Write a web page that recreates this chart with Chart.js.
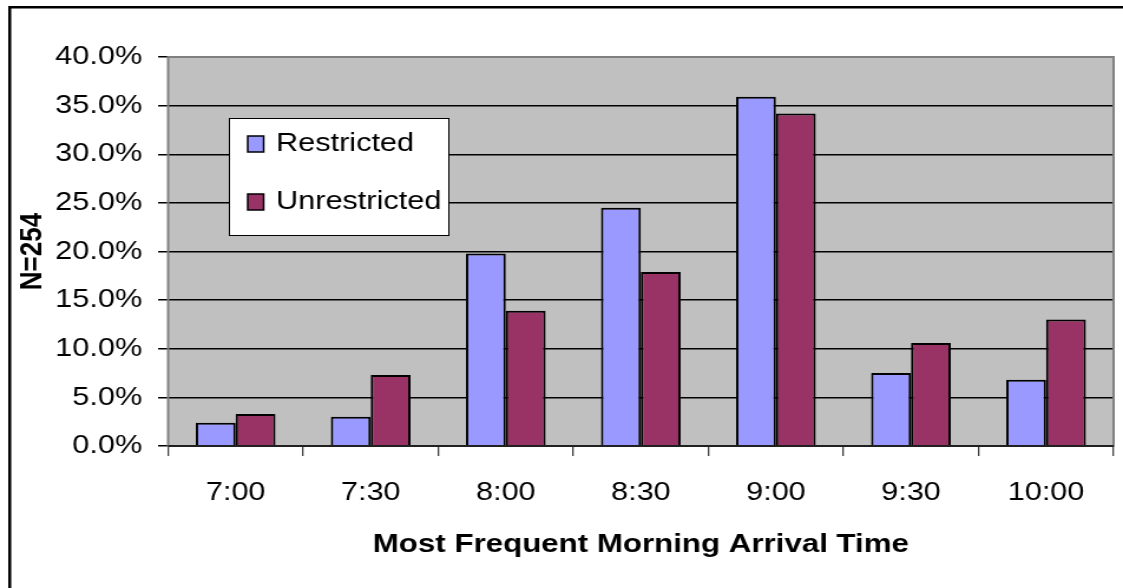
<!DOCTYPE html>
<html>
<head>
<meta charset="utf-8">
<script src="https://cdn.jsdelivr.net/npm/chart.js@4"></script>
<style>
  html, body { margin: 0; padding: 0; background: #fff; overflow: hidden; }
  /* the original picture is stretched sideways, so the canvas is drawn narrow and widened */
  #arrivalChart { width: 1123px !important; height: 588px !important; display: block; }
</style>
</head>
<body>
<canvas id="arrivalChart" width="952" height="588"></canvas>
<script>
const times = ['7:00', '7:30', '8:00', '8:30', '9:00', '9:30', '10:00'];
const restricted = [2.4, 3.0, 19.8, 24.5, 35.9, 7.5, 6.8];
const unrestricted = [3.3, 7.3, 13.9, 17.9, 34.2, 10.6, 13.0];
const yTicks = [0, 5, 10, 15, 20, 25, 30, 35, 40];

const FONT = '"Liberation Sans", Arial, sans-serif';

// grey plot background + frame round the whole chart
const plotBg = {
    id: 'plotBg',
    beforeDraw(chart) {
        const { ctx, chartArea: a } = chart;
        ctx.save();
        ctx.fillStyle = '#C0C0C0';
        ctx.fillRect(a.left, a.top, a.right - a.left, a.bottom - a.top);
        ctx.fillStyle = '#000';
        ctx.fillRect(7, 6, 2.5, chart.height - 6);
        ctx.fillRect(7, 6, chart.width - 7, 2.5);
        ctx.restore();
    },
    afterDatasetsDraw(chart) {
        const { ctx, chartArea: a } = chart;
        ctx.save();
        ctx.strokeStyle = '#808080';
        ctx.lineWidth = 2;
        ctx.strokeRect(a.left, a.top, a.right - a.left, a.bottom - a.top);
        ctx.strokeStyle = '#000';
        ctx.lineWidth = 1.5;
        ctx.beginPath();
        ctx.moveTo(a.left, a.bottom);
        ctx.lineTo(a.right, a.bottom);
        ctx.stroke();
        ctx.restore();
    }
};

// legend box drawn inside the plot, like the original
const boxLegend = {
    id: 'boxLegend',
    afterDraw(chart) {
        const { ctx } = chart;
        const x = 194, y = 118, w = 186, h = 117;
        ctx.save();
        ctx.fillStyle = '#fff';
        ctx.fillRect(x, y, w, h);
        ctx.strokeStyle = '#000';
        ctx.lineWidth = 1;
        ctx.strokeRect(x + 0.5, y + 0.5, w, h);
        ctx.font = '26px ' + FONT;
        ctx.textBaseline = 'middle';
        chart.data.datasets.forEach((ds, i) => {
            const cy = 144 + i * 58;
            ctx.fillStyle = ds.backgroundColor;
            ctx.fillRect(210, cy - 8, 13.5, 16);
            ctx.strokeStyle = '#000';
            ctx.lineWidth = 1.5;
            ctx.strokeRect(210, cy - 8, 13.5, 16);
            ctx.fillStyle = '#000';
            ctx.fillText(ds.label, 234, cy);
        });
        ctx.restore();
    }
};

new Chart(document.getElementById('arrivalChart'), {
    type: 'bar',
    data: {
        labels: times,
        datasets: [
            {
                label: 'Restricted',
                data: restricted,
                backgroundColor: '#9999FF',
                borderColor: '#000',
                borderWidth: 2
            },
            {
                label: 'Unrestricted',
                data: unrestricted,
                backgroundColor: '#993366',
                borderColor: '#000',
                borderWidth: 2
            }
        ]
    },
    options: {
        responsive: false,
        animation: false,
        devicePixelRatio: 1,
        categoryPercentage: 0.59,
        barPercentage: 1.0,
        layout: { padding: { left: 0, top: 57, right: 8, bottom: 0 } },
        plugins: {
            legend: { display: false },
            tooltip: { enabled: false }
        },
        scales: {
            x: {
                afterFit: s => { s.height = 142; },
                grid: {
                    offset: true,
                    drawOnChartArea: false,
                    drawTicks: true,
                    tickLength: 10,
                    tickColor: '#404040',
                    lineWidth: 1.3
                },
                border: { display: false },
                ticks: {
                    color: '#000',
                    padding: 21,
                    font: { family: FONT, size: 26 }
                },
                title: {
                    display: true,
                    text: 'Most Frequent Morning Arrival Time',
                    color: '#000',
                    padding: { top: 0, bottom: 27 },
                    font: { family: FONT, size: 26.5, weight: 'bold' }
                }
            },
            y: {
                min: 0,
                max: 40,
                afterFit: s => { s.width = 142.5; },
                afterBuildTicks: s => { s.ticks = yTicks.map(v => ({ value: v })); },
                grid: {
                    color: '#000',
                    lineWidth: 1.5,
                    tickLength: 8.5,
                    tickColor: '#000'
                },
                border: { display: false },
                ticks: {
                    color: '#000',
                    padding: 13.5,
                    font: { family: FONT, size: 26 },
                    callback: v => v.toFixed(1) + '%'
                },
                title: {
                    display: true,
                    text: 'N=254',
                    color: '#000',
                    padding: { top: 12, bottom: 0 },
                    font: { family: FONT, size: 26, weight: 'bold' }
                }
            }
        }
    },
    plugins: [plotBg, boxLegend]
});
</script>
</body>
</html>
